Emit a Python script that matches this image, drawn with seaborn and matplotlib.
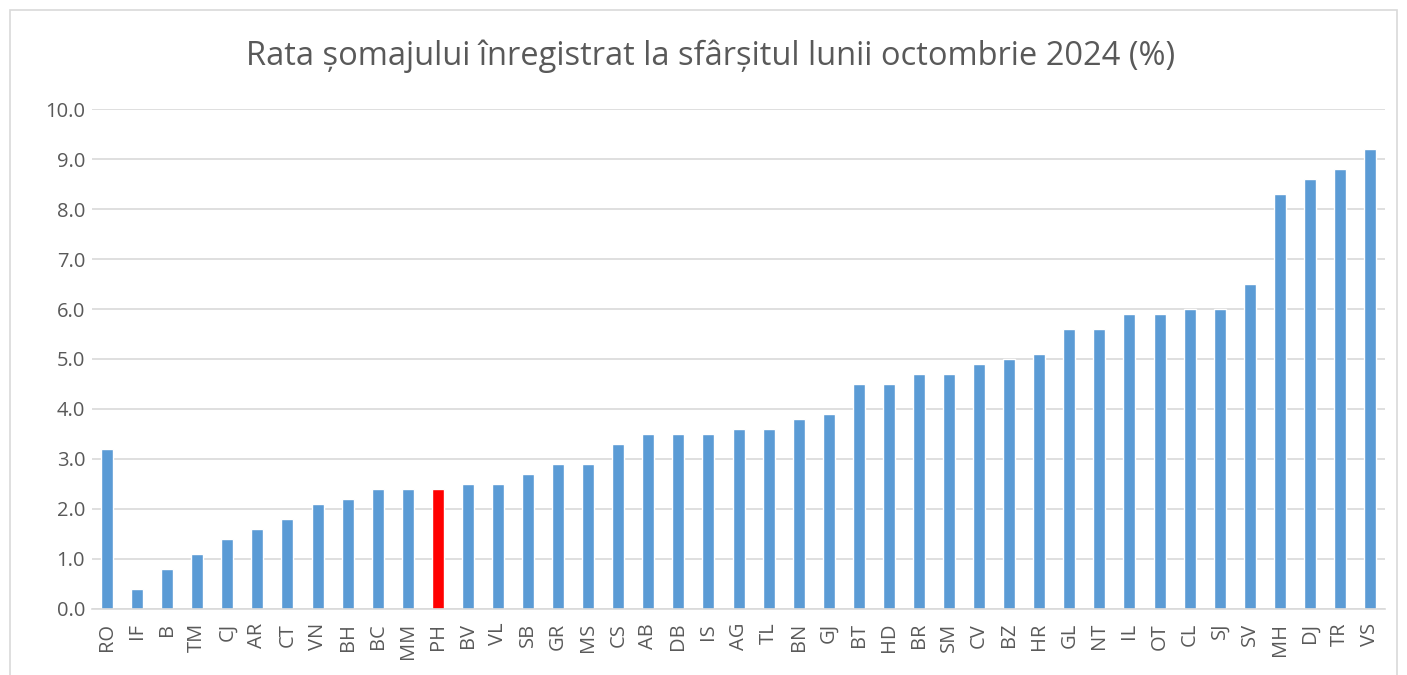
import numpy as np
import pandas as pd
import seaborn as sns
import matplotlib.pyplot as plt
from matplotlib.patches import Rectangle

# datos: rata somajului pe judete, octombrie 2024
judete = ["RO", "IF", "B", "TM", "CJ", "AR", "CT", "VN", "BH", "BC", "MM", "PH",
          "BV", "VL", "SB", "GR", "MS", "CS", "AB", "DB", "IS", "AG", "TL", "BN",
          "GJ", "BT", "HD", "BR", "SM", "CV", "BZ", "HR", "GL", "NT", "IL", "OT",
          "CL", "SJ", "SV", "MH", "DJ", "TR", "VS"]
rata = [3.2, 0.4, 0.8, 1.1, 1.4, 1.6, 1.8, 2.1, 2.2, 2.4, 2.4, 2.4,
        2.5, 2.5, 2.7, 2.9, 2.9, 3.3, 3.5, 3.5, 3.5, 3.6, 3.6, 3.8,
        3.9, 4.5, 4.5, 4.7, 4.7, 4.9, 5.0, 5.1, 5.6, 5.6, 5.9, 5.9,
        6.0, 6.0, 6.5, 8.3, 8.6, 8.8, 9.2]
yticks = [0, 1, 2, 3, 4, 5, 6, 7, 8, 9, 10]

df = pd.DataFrame({"judet": judete, "rata": rata})
culori = {j: ("#ff0000" if j == "PH" else "#5b9bd5") for j in judete}

sns.set_style("white")
plt.rcParams["font.family"] = ["Open Sans", "DejaVu Sans"]

fig = plt.figure(figsize=(14.07, 6.75), dpi=100)
ax = fig.add_axes([0.0654, 0.0978, 0.9190, 0.7407])

sns.barplot(data=df, x="judet", y="rata", hue="judet", palette=culori,
            width=0.4, legend=False, ax=ax, saturation=1)

ax.set_ylim(0, 10)
ax.set_xlim(-0.5, len(judete) - 0.5)
ax.set_yticks(yticks)
ax.set_yticklabels([f"{v:.1f}" for v in yticks])
ax.yaxis.grid(True, color="#d9d9d9", linewidth=1.2)
ax.set_axisbelow(True)
for s in ["top", "right", "left"]:
    ax.spines[s].set_visible(False)
ax.spines["bottom"].set_color("#d9d9d9")
ax.spines["bottom"].set_linewidth(1.2)
ax.tick_params(axis="x", rotation=90, labelsize=14.5, colors="#595959", length=0, pad=10)
ax.tick_params(axis="y", labelsize=14.5, colors="#595959", length=0, pad=5)
ax.set_xlabel("")
ax.set_ylabel("")

fig.text(0.505, 0.916, "Rata șomajului înregistrat la sfârșitul lunii octombrie 2024 (%)",
         ha="center", va="center", fontsize=23.5, color="#595959")

# chenarul graficului
fig.patches.append(Rectangle((0.007, -0.01), 0.986, 0.995, transform=fig.transFigure,
                             fill=False, edgecolor="#d9d9d9", linewidth=1.2))

fig.savefig("out.png", dpi=100)
